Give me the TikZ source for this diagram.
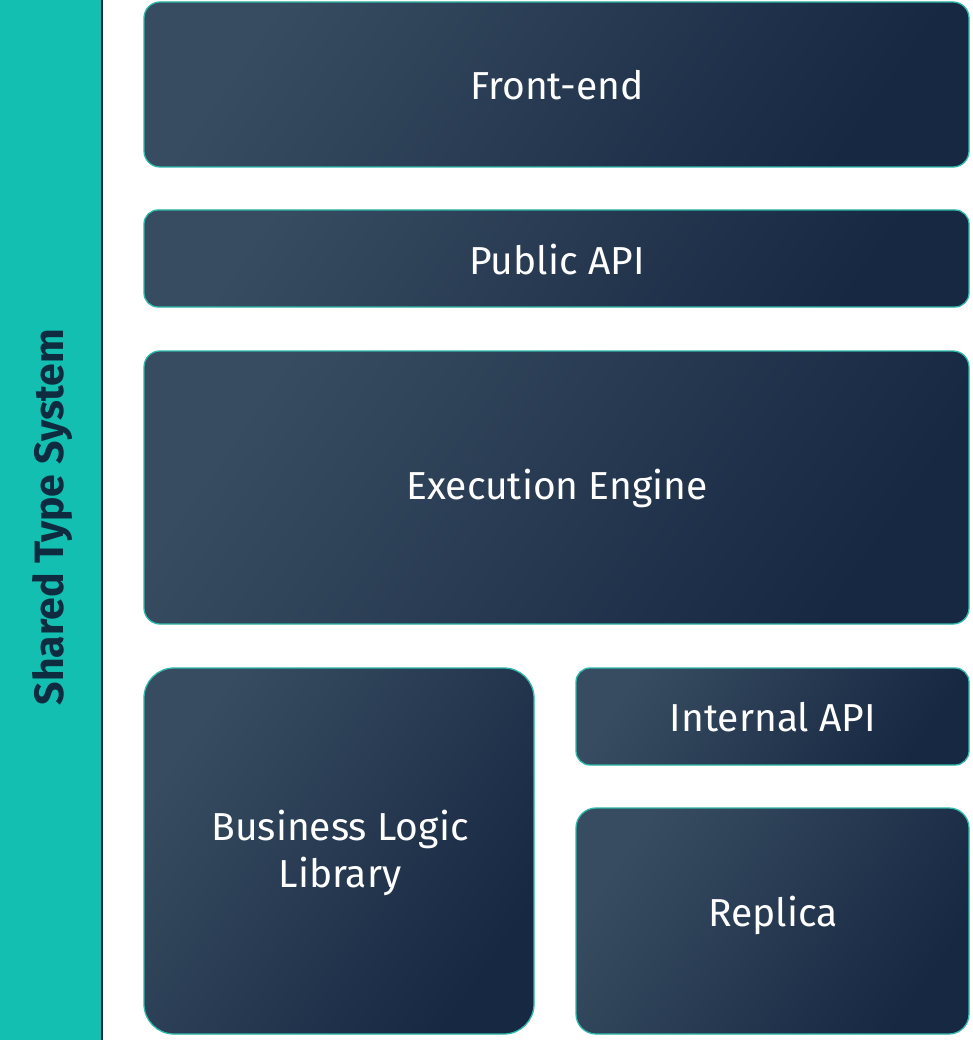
\documentclass[tikz,border=0pt]{standalone}
\usepackage{fontspec}
\setmainfont{Fira Sans}
\usetikzlibrary{shadings}
\definecolor{teal}{HTML}{12BFB1}
\definecolor{tealedge}{HTML}{2DB8AA}
\definecolor{boxlight}{HTML}{374C61}
\definecolor{boxmid}{HTML}{1F3049}
\definecolor{boxdark}{HTML}{172842}
\definecolor{navy}{HTML}{0F2B40}
\begin{document}
\begin{tikzpicture}[x=1pt,y=-1pt,
  layer/.style={draw=tealedge, line width=1.3pt, rounded corners=16pt,
    left color=boxlight, middle color=boxmid, right color=boxdark, shading angle=55},
  lbl/.style={text=white, font=\fontsize{39}{47}\selectfont, align=center}]
\useasboundingbox (0,0) rectangle (972,1040);
\fill[white] (0,0) rectangle (972,1040);
\fill[teal] (0,0) rectangle (102,1040);
\draw[navy, line width=1.2pt] (102,0) -- (102,1040);
\node[rotate=90, text=navy, font=\fontsize{41}{48}\selectfont\bfseries] (sts) at (52,517) {Shared Type System};
\path[layer] (144,2) rectangle (969,167);
\node[lbl] (fe) at (557,85) {Front-end};
\path[layer, rounded corners=14pt] (144,210) rectangle (969,307);
\node[lbl] (papi) at (557,260) {Public API};
\path[layer] (144,351) rectangle (969,624);
\node[lbl] (ee) at (557,488) {Execution Engine};
\path[layer, rounded corners=30pt] (144,668) rectangle (534,1034);
\node[lbl] (bll) at (340,853) {Business Logic\\Library};
\path[layer, rounded corners=14pt] (576,668) rectangle (969,765);
\node[lbl] (iapi) at (773,717) {Internal API};
\path[layer, rounded corners=20pt] (576,808) rectangle (969,1034);
\node[lbl] (rep) at (773,915) {Replica};
\end{tikzpicture}
\end{document}
